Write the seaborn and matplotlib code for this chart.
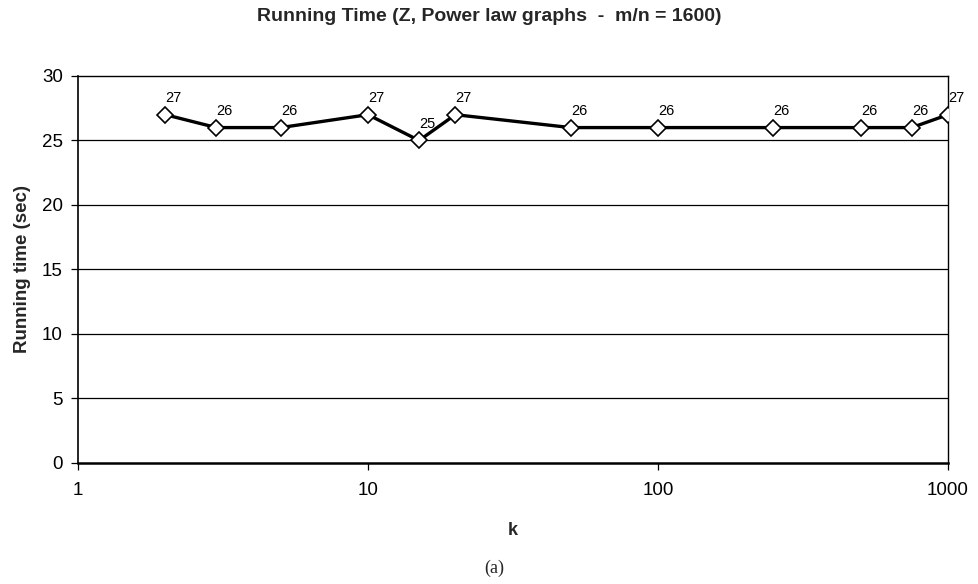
import matplotlib
matplotlib.use("Agg")
import matplotlib.pyplot as plt
import seaborn as sns
import pandas as pd
from matplotlib.ticker import FixedLocator, NullLocator, FixedFormatter

k_values = [2, 3, 5, 10, 15, 20, 50, 100, 250, 500, 750, 1000]
running_time = [27, 26, 26, 27, 25, 27, 26, 26, 26, 26, 26, 27]
x_ticks = [1, 10, 100, 1000]
x_tick_labels = ["1", "10", "100", "1000"]
y_ticks = [0, 5, 10, 15, 20, 25, 30]

sns.set_theme(style="white")
plt.rcParams['font.family'] = ['Liberation Sans', 'DejaVu Sans']

df = pd.DataFrame({"k": k_values, "t": running_time})

fig = plt.figure(figsize=(9.79, 5.84), dpi=100)
ax = fig.add_axes([0.0797, 0.2072, 0.8886, 0.6627])

sns.lineplot(data=df, x="k", y="t", ax=ax, color="black", linewidth=2.4,
             marker="D", markersize=8.5, markerfacecolor="white",
             markeredgecolor="black", markeredgewidth=1.2, zorder=3)

ax.set_xscale("log")
ax.set_xlim(1, 1000)
ax.set_ylim(0, 30)
ax.xaxis.set_major_locator(FixedLocator(x_ticks))
ax.xaxis.set_major_formatter(FixedFormatter(x_tick_labels))
ax.xaxis.set_minor_locator(NullLocator())
ax.yaxis.set_major_locator(FixedLocator(y_ticks))

for y in y_ticks[1:-1]:
    ax.axhline(y, color="black", linewidth=0.9, zorder=1)

for s in ax.spines.values():
    s.set_color("black")
    s.set_linewidth(1.0)
ax.spines["bottom"].set_linewidth(1.8)
ax.spines["left"].set_linewidth(1.2)

ax.tick_params(axis="both", which="major", direction="out", length=5,
               width=0.9, color="black", labelsize=13.5, labelcolor="black",
               bottom=True, left=True)
ax.tick_params(axis="x", pad=9)
ax.tick_params(axis="y", pad=6)

for kk, tt in zip(k_values, running_time):
    ax.annotate(str(tt), (kk, tt), xytext=(6, 12), textcoords="offset points",
                ha="center", va="center", fontsize=10.5, color="black")

ax.set_xlabel("k", fontsize=13, fontweight="bold", labelpad=16)
ax.set_ylabel("Running time (sec)", fontsize=13.5, fontweight="bold", labelpad=8)

fig.text(0.5, 0.971, "Running Time (Z, Power law graphs  -  m/n = 1600)",
         ha="center", va="center", fontsize=14, fontweight="bold")
fig.text(0.505, 0.027, "(a)", ha="center", va="center", fontsize=13,
         family=["Liberation Serif", "DejaVu Serif"])

fig.savefig("out.png", dpi=100, facecolor="white")
